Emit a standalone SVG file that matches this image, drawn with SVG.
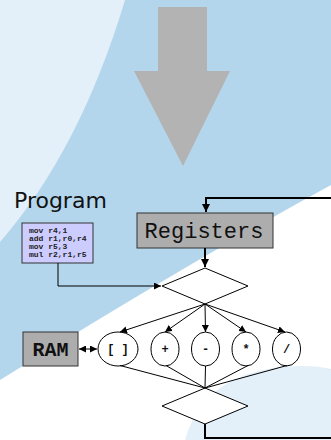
<svg xmlns="http://www.w3.org/2000/svg" width="331" height="440" viewBox="0 0 331 440">
<defs>
<marker id="ah" viewBox="0 0 10 10" refX="10" refY="5" markerWidth="8" markerHeight="8" markerUnits="userSpaceOnUse" orient="auto"><path d="M0,0 L10,5 L0,10 z" fill="#000"/></marker>
<marker id="ahs" viewBox="0 0 10 10" refX="10" refY="5" markerWidth="7" markerHeight="7" markerUnits="userSpaceOnUse" orient="auto-start-reverse"><path d="M0,0 L10,5 L0,10 z" fill="#000"/></marker>
</defs>
<style>
.box{stroke:#333;stroke-width:1}
.gray{fill:#adadad}
.shape{fill:#fff;stroke:#000;stroke-width:1}
.ln{fill:none;stroke:#000;stroke-width:1}
.thick{fill:none;stroke:#000;stroke-width:2}
.mono{font-family:"Liberation Mono","DejaVu Sans Mono",monospace}
.op{font-family:"Liberation Mono",monospace;font-weight:bold;font-size:12px;text-anchor:middle;fill:#111}
</style>
<g id="background">
<rect x="0" y="0" width="331" height="440" fill="#b3d6ec"/>
<path d="M0,0 L125,0 Q80,150 0,242 Z" fill="#e4f0f9"/>
<path d="M331,185 Q190,262 0,380 L0,440 L331,440 Z" fill="#fff"/>
<path d="M185,440 Q205,368 300,366 Q320,366 331,369 L331,440 Z" fill="#e4f0f9"/>
<path d="M158,7 L207,7 L207,71 L230,71 L183,166 L134,71 L158,71 Z" fill="#b3b3b3"/>
</g>
<g id="program">
<text x="14" y="208" font-family="DejaVu Sans, sans-serif" font-size="22" fill="#111">Program</text>
<rect class="box" x="22" y="223" width="71" height="40" fill="#ccccff"/>
<g class="mono" font-size="8" font-weight="bold" fill="#222">
<text x="29" y="233">mov r4,1</text>
<text x="29" y="241">add r1,r0,r4</text>
<text x="29" y="249">mov r5,3</text>
<text x="29" y="257">mul r2,r1,r5</text>
</g>
</g>
<g id="registers">
<rect class="box gray" x="137" y="213" width="136" height="35"/>
<text class="mono" x="204" y="238" font-size="22" text-anchor="middle" fill="#111">Registers</text>
</g>
<g id="ram">
<rect class="box gray" x="23" y="332" width="55" height="34"/>
<text class="mono" x="50.5" y="356" font-size="20" font-weight="bold" text-anchor="middle" fill="#111">RAM</text>
</g>
<g id="decode">
<path class="shape" d="M205,268 L248,286 L205,304 L162,286 Z"/>
</g>
<g id="op-load">
<ellipse class="shape" cx="118" cy="349" rx="20" ry="17"/>
<text class="op" x="118" y="353">[ ]</text>
</g>
<g id="op-add">
<ellipse class="shape" cx="165" cy="349" rx="14" ry="17"/>
<text class="op" x="165" y="353">+</text>
</g>
<g id="op-sub">
<ellipse class="shape" cx="205.5" cy="349" rx="14" ry="17"/>
<text class="op" x="205.5" y="353">-</text>
</g>
<g id="op-mul">
<ellipse class="shape" cx="246" cy="349" rx="14" ry="17"/>
<text class="op" x="246" y="353">*</text>
</g>
<g id="op-div">
<ellipse class="shape" cx="286.5" cy="349" rx="14" ry="17"/>
<text class="op" x="286.5" y="353">/</text>
</g>
<g id="merge">
<path class="shape" d="M205,388 L248,406 L205,424 L162,406 Z"/>
</g>
<g id="connectors">
<path class="thick" d="M331,198 L206,198 L206,212" marker-end="url(#ah)"/>
<path class="thick" d="M205,248 L205,267" marker-end="url(#ah)"/>
<path class="ln" d="M58,263 L58,286 L161,286" marker-end="url(#ahs)"/>
<path class="ln" d="M205,304 L120,332" marker-end="url(#ahs)"/>
<path class="ln" d="M205,304 L165,332" marker-end="url(#ahs)"/>
<path class="ln" d="M205,304 L205.5,332" marker-end="url(#ahs)"/>
<path class="ln" d="M205,304 L246,332" marker-end="url(#ahs)"/>
<path class="ln" d="M205,304 L285,332" marker-end="url(#ahs)"/>
<path class="ln" d="M79,349 L97,349" marker-start="url(#ahs)" marker-end="url(#ahs)"/>
<path class="ln" d="M120,365.5 L205,388 M166,365.5 L205,388 M205.5,366 L205,388 M248,365.5 L205,388 M287,365.5 L205,388"/>
<path class="thick" d="M205,424 L205,438 L331,438"/>
</g>
</svg>
